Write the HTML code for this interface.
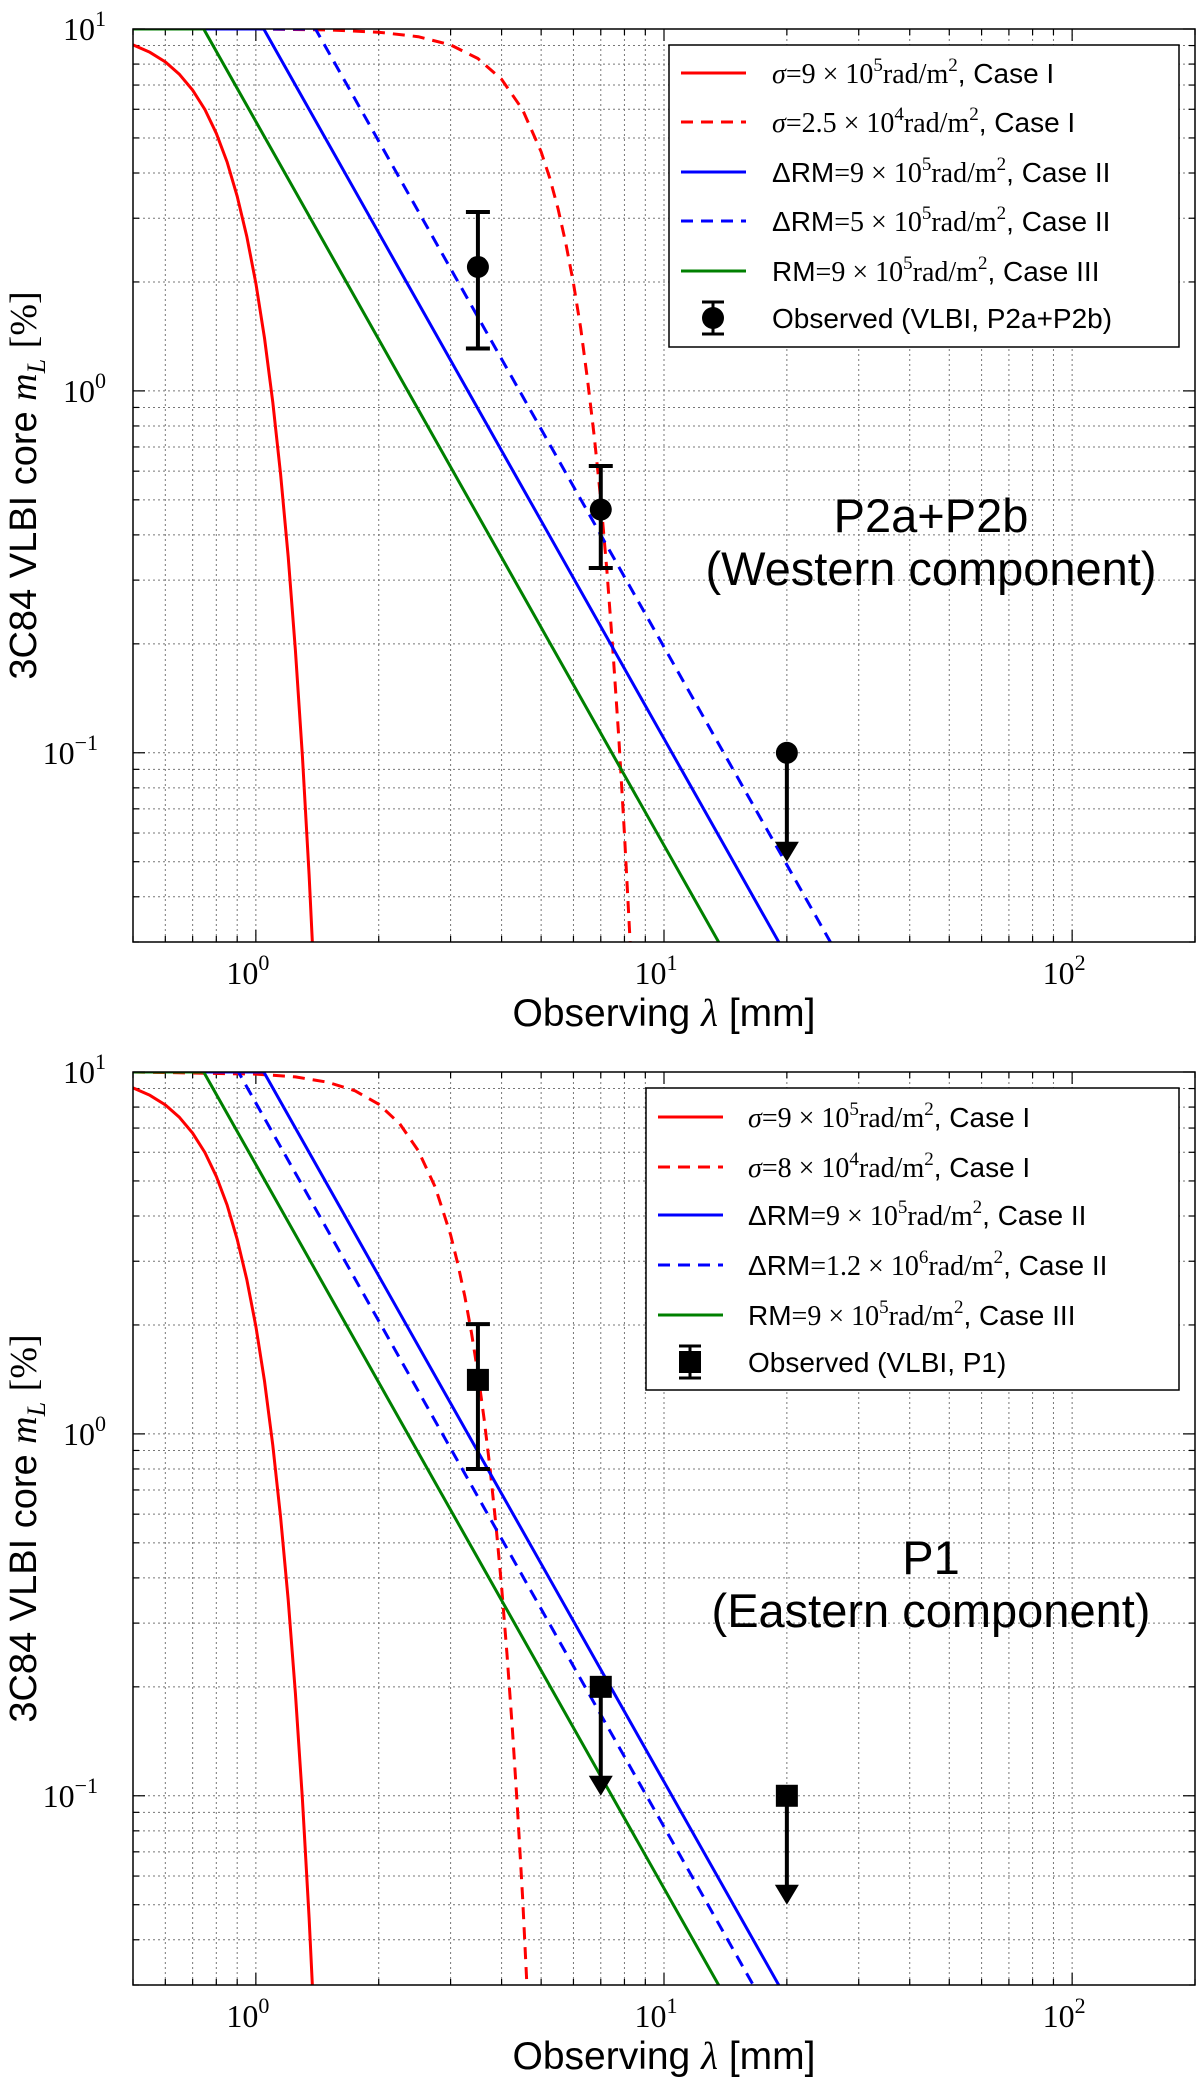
<!DOCTYPE html>
<html><head><meta charset="utf-8">
<style>
html,body{margin:0;padding:0;background:#fff;}
svg{display:block;}
text{font-family:"Liberation Sans",sans-serif;}
.serif{font-family:"Liberation Serif",serif;}
</style></head>
<body>
<svg id="fig" width="1200" height="2081" viewBox="0 0 1200 2081" xmlns="http://www.w3.org/2000/svg"></svg>
<script>
// ---------- data ----------
const redSolidLam = [0.5,0.55,0.6,0.65,0.7,0.75,0.8,0.85,0.9,0.95,1.0,1.05,1.1,1.15,1.2,1.25,1.3,1.35,1.4];
const redSolidVal = [9.04,8.62,8.11,7.49,6.78,5.99,5.15,4.29,3.45,2.67,1.98,1.40,0.93,0.588,0.348,0.192,0.098,0.046,0.0198];
const redDashTopLam = [0.5,1,1.5,2,2.5,3,3.5,4,4.5,5,5.25,5.5,5.75,6,6.25,6.5,6.75,7,7.25,7.5,7.75,8,8.1,8.3];
const redDashTopVal = [10,10,9.94,9.8,9.52,9.04,8.29,7.26,5.99,4.58,3.87,3.19,2.55,1.98,1.49,1.07,0.746,0.50,0.316,0.19,0.110,0.060,0.046,0.027];
const redDashBotLam = [0.5,1,1.25,1.5,1.75,2,2.25,2.5,2.75,3,3.125,3.25,3.375,3.5,3.625,3.75,3.875,4,4.125,4.25,4.375,4.5,4.55,4.65];
const redDashBotVal = [10,9.87,9.69,9.37,8.87,8.15,7.2,6.06,4.81,3.55,2.95,2.40,1.90,1.47,1.10,0.80,0.558,0.378,0.246,0.154,0.092,0.053,0.0415,0.025];
const blueSolidLam = [0.5,1.046,2,5,10,20];
const blueSolidVal = [10,10,2.735,0.4377,0.1094,0.02735];
const blueDashTopLam = [0.5,1.40,2,5,10,20,30];
const blueDashTopVal = [10,10,4.9,0.784,0.196,0.049,0.0218];
const blueDashBotLam = [0.5,0.906,2,5,10,20];
const blueDashBotVal = [10,10,2.052,0.3283,0.0821,0.0205];
const greenLam = [0.5,0.745,2,5,10,20];
const greenVal = [10,10,1.388,0.222,0.0555,0.0139];
// observations
const obsTopLam = [3.5,7];
const obsTopVal = [2.2,0.47];
const obsTopLo = [1.31,0.324];
const obsTopHi = [3.12,0.62];
const limTopLam = [20];
const limTopVal = [0.1];
const limTopTip = [0.05];
const obsBotLam = [3.5];
const obsBotVal = [1.41];
const obsBotLo = [0.80];
const obsBotHi = [2.01];
const limBotLam = [7,20];
const limBotVal = [0.2,0.1];
const limBotTip = [0.1,0.05];
const xTickVals = [1,10,100];
const xTickExp = ["0","1","2"];
const yTickVals = [0.1,1,10];
const yTickExp = ["\u22121","0","1"];

const NS="http://www.w3.org/2000/svg";
const svg=document.getElementById('fig');
function mk(tag,attrs,parent){const e=document.createElementNS(NS,tag);for(const k in attrs)e.setAttribute(k,attrs[k]);(parent||svg).appendChild(e);return e;}

function makeAxes(top,bottom){
  const L=133,R=1195,xmin=0.5,xmax=200,ymin=0.03,ymax=10;
  const X=v=>L+(Math.log10(v)-Math.log10(xmin))/(Math.log10(xmax)-Math.log10(xmin))*(R-L);
  const Y=v=>bottom-(Math.log10(v)-Math.log10(ymin))/(Math.log10(ymax)-Math.log10(ymin))*(bottom-top);
  return {L,R,top,bottom,X,Y};
}

function drawPanel(id,ax,curves,obs,obsShape,lims,legend,ann){
  const g=mk('g',{});
  
  
  const clip=mk('clipPath',{id:id+'-clip'},g);
  mk('rect',{x:ax.L,y:ax.top,width:ax.R-ax.L,height:ax.bottom-ax.top},clip);
  const grid=mk('g',{stroke:'#777','stroke-width':1,'stroke-dasharray':'2,3'},g);
  
  
  const ticks=mk('g',{stroke:'#000','stroke-width':1.2},g);
  for(let d=-1;d<=2;d++){for(let m=1;m<=9;m++){const v=m*Math.pow(10,d);if(v<0.5||v>200)continue;const x=ax.X(v);
    mk('line',{x1:x,x2:x,y1:ax.top,y2:ax.bottom},grid);
    const len=m===1?12:6;
    mk('line',{x1:x,x2:x,y1:ax.bottom,y2:ax.bottom-len},ticks);
    mk('line',{x1:x,x2:x,y1:ax.top,y2:ax.top+len},ticks);}}
  for(let d=-2;d<=1;d++){for(let m=1;m<=9;m++){const v=m*Math.pow(10,d);if(v<0.03||v>10.001)continue;const y=ax.Y(v);
    mk('line',{x1:ax.L,x2:ax.R,y1:y,y2:y},grid);
    const len=m===1?12:6;
    mk('line',{x1:ax.L,x2:ax.L+len,y1:y,y2:y},ticks);
    mk('line',{x1:ax.R,x2:ax.R-len,y1:y,y2:y},ticks);}}
  const cg=mk('g',{'clip-path':'url(#'+id+'-clip)',fill:'none','stroke-width':3},g);
  curves.forEach(c=>{
    const d=c.lam.map((l,i)=>(i?'L':'M')+ax.X(l).toFixed(1)+','+ax.Y(c.val[i]).toFixed(1)).join(' ');
    const p=mk('path',{d:d,stroke:c.color,'stroke-linejoin':'round'},cg);
    if(c.dash)p.setAttribute('stroke-dasharray','12,8');
    
    
  });
  obs.lam.forEach((l,i)=>{
    const x=ax.X(l),y=ax.Y(obs.val[i]),y1=ax.Y(obs.hi[i]),y2=ax.Y(obs.lo[i]);
    const e=mk('g',{stroke:'#000','stroke-width':4},g);
    
    
    mk('line',{x1:x,x2:x,y1:y1,y2:y2},e);
    mk('line',{x1:x-12,x2:x+12,y1:y1,y2:y1},e);
    mk('line',{x1:x-12,x2:x+12,y1:y2,y2:y2},e);
    if(obsShape==='circle')mk('circle',{cx:x,cy:y,r:11,fill:'#000',stroke:'none'},e);
    else mk('rect',{x:x-11,y:y-11,width:22,height:22,fill:'#000',stroke:'none'},e);
  });
  lims.lam.forEach((l,i)=>{
    const x=ax.X(l),y=ax.Y(lims.val[i]),yt=ax.Y(lims.tip[i]);
    const e=mk('g',{},g);
    
    
    mk('line',{x1:x,x2:x,y1:y,y2:yt-18,stroke:'#000','stroke-width':4},e);
    mk('polygon',{points:`${x-12},${yt-20} ${x+12},${yt-20} ${x},${yt}`,fill:'#000'},e);
    if(obsShape==='circle')mk('circle',{cx:x,cy:y,r:11,fill:'#000'},e);
    else mk('rect',{x:x-11,y:y-11,width:22,height:22,fill:'#000'},e);
  });
  const fr=mk('rect',{x:ax.L,y:ax.top,width:ax.R-ax.L,height:ax.bottom-ax.top,fill:'none',stroke:'#000','stroke-width':1.5},g);
  
  
  xTickVals.forEach((v,i)=>{
    const t=mk('text',{x:ax.X(v)-8,y:ax.bottom+42,'text-anchor':'middle','font-size':32,class:'serif'},g);
    
    
    t.textContent='10';
    const s=mk('tspan',{dy:-14,'font-size':22},t);s.textContent=xTickExp[i];
  });
  yTickVals.forEach((v,i)=>{
    const t=mk('text',{x:i===0?98:106,y:ax.Y(v)+11,'text-anchor':'end','font-size':32,class:'serif'},g);
    
    
    t.textContent='10';
    const s=mk('tspan',{dy:-14,'font-size':22},t);s.textContent=yTickExp[i];
  });
  const xt=mk('text',{x:664,y:ax.bottom+84,'text-anchor':'middle','font-size':39},g);
  
  
  xt.innerHTML='Observing <tspan class="serif" font-style="italic">λ</tspan> [mm]';
  const cy=(ax.top+ax.bottom)/2;
  const yt=mk('text',{x:0,y:0,'text-anchor':'middle','font-size':38,transform:`translate(36,${cy}) rotate(-90)`},g);
  
  
  yt.innerHTML='3C84 VLBI core <tspan class="serif" font-style="italic">m</tspan><tspan class="serif" font-style="italic" font-size="26" dy="9">L</tspan><tspan dy="-9"> </tspan><tspan class="serif">[%]</tspan>';
  const lg=mk('g',{},g);
  
  
  mk('rect',{x:legend.x,y:legend.y,width:legend.w,height:legend.h,fill:'#fff',stroke:'#000','stroke-width':1.5},lg);
  legend.rows.forEach((r,i)=>{
    const yy=legend.rowY[i];
    const en=mk('g',{},lg);
    
    
    if(r.color){const ln=mk('line',{x1:legend.lx,x2:legend.lx+65,y1:yy,y2:yy,stroke:r.color,'stroke-width':3},en);if(r.dash)ln.setAttribute('stroke-dasharray','12,8');}
    else{const mx=legend.lx+32;mk('line',{x1:mx,x2:mx,y1:yy-16,y2:yy+16,stroke:'#000','stroke-width':3},en);
      mk('line',{x1:mx-11,x2:mx+11,y1:yy-16,y2:yy-16,stroke:'#000','stroke-width':3},en);
      mk('line',{x1:mx-11,x2:mx+11,y1:yy+16,y2:yy+16,stroke:'#000','stroke-width':3},en);
      if(obsShape==='circle')mk('circle',{cx:mx,cy:yy,r:11,fill:'#000'},en);else mk('rect',{x:mx-11,y:yy-11,width:22,height:22,fill:'#000'},en);}
    const t=mk('text',{x:legend.tx,y:yy+10,'font-size':28},en);
    t.innerHTML=r.html;
  });
  ann.forEach((a,i)=>{
    const t=mk('text',{x:931,y:a.y,'text-anchor':'middle','font-size':47},g);
    
    
    t.textContent=a.t;
  });
}
function sci(pre,mant,exp,post){return `<tspan class="serif" font-style="${pre==='σ'?'italic':'normal'}">${pre==='σ'?'σ':''}</tspan>${pre==='σ'?'':pre}<tspan class="serif">=${mant} × 10</tspan><tspan class="serif" font-size="19" dy="-12">${exp}</tspan><tspan class="serif" dy="12">rad/m</tspan><tspan class="serif" font-size="19" dy="-12">2</tspan><tspan dy="12">, ${post}</tspan>`;}

const ax1=makeAxes(29,942);
drawPanel('top-panel',ax1,[
  {lam:redSolidLam,val:redSolidVal,color:'#ff0000',name:'sigma-9e5-case-i'},
  {lam:redDashTopLam,val:redDashTopVal,color:'#ff0000',dash:true,name:'sigma-2.5e4-case-i'},
  {lam:blueSolidLam,val:blueSolidVal,color:'#0000ff',name:'drm-9e5-case-ii'},
  {lam:blueDashTopLam,val:blueDashTopVal,color:'#0000ff',dash:true,name:'drm-5e5-case-ii'},
  {lam:greenLam,val:greenVal,color:'#008000',name:'rm-9e5-case-iii'}],
  {lam:obsTopLam,val:obsTopVal,lo:obsTopLo,hi:obsTopHi},'circle',
  {lam:limTopLam,val:limTopVal,tip:limTopTip},
  {x:669,y:45,w:510,h:302,lx:681,tx:772,rowY:[73,122,172,221,271,318],rows:[
    {color:'#ff0000',html:sci('σ','9','5','Case I')},
    {color:'#ff0000',dash:true,html:sci('σ','2.5','4','Case I')},
    {color:'#0000ff',html:sci('ΔRM','9','5','Case II')},
    {color:'#0000ff',dash:true,html:sci('ΔRM','5','5','Case II')},
    {color:'#008000',html:sci('RM','9','5','Case III')},
    {html:'Observed (VLBI, P2a+P2b)'}]},
  [{t:'P2a+P2b',y:532},{t:'(Western component)',y:585}]);

const ax2=makeAxes(1072,1985);
drawPanel('bottom-panel',ax2,[
  {lam:redSolidLam,val:redSolidVal,color:'#ff0000',name:'sigma-9e5-case-i'},
  {lam:redDashBotLam,val:redDashBotVal,color:'#ff0000',dash:true,name:'sigma-8e4-case-i'},
  {lam:blueSolidLam,val:blueSolidVal,color:'#0000ff',name:'drm-9e5-case-ii'},
  {lam:blueDashBotLam,val:blueDashBotVal,color:'#0000ff',dash:true,name:'drm-1.2e6-case-ii'},
  {lam:greenLam,val:greenVal,color:'#008000',name:'rm-9e5-case-iii'}],
  {lam:obsBotLam,val:obsBotVal,lo:obsBotLo,hi:obsBotHi},'square',
  {lam:limBotLam,val:limBotVal,tip:limBotTip},
  {x:646,y:1088,w:533,h:302,lx:658,tx:748,rowY:[1117,1167,1215,1265,1315,1362],rows:[
    {color:'#ff0000',html:sci('σ','9','5','Case I')},
    {color:'#ff0000',dash:true,html:sci('σ','8','4','Case I')},
    {color:'#0000ff',html:sci('ΔRM','9','5','Case II')},
    {color:'#0000ff',dash:true,html:sci('ΔRM','1.2','6','Case II')},
    {color:'#008000',html:sci('RM','9','5','Case III')},
    {html:'Observed (VLBI, P1)'}]},
  [{t:'P1',y:1574},{t:'(Eastern component)',y:1627}]);
</script>
</body></html>
